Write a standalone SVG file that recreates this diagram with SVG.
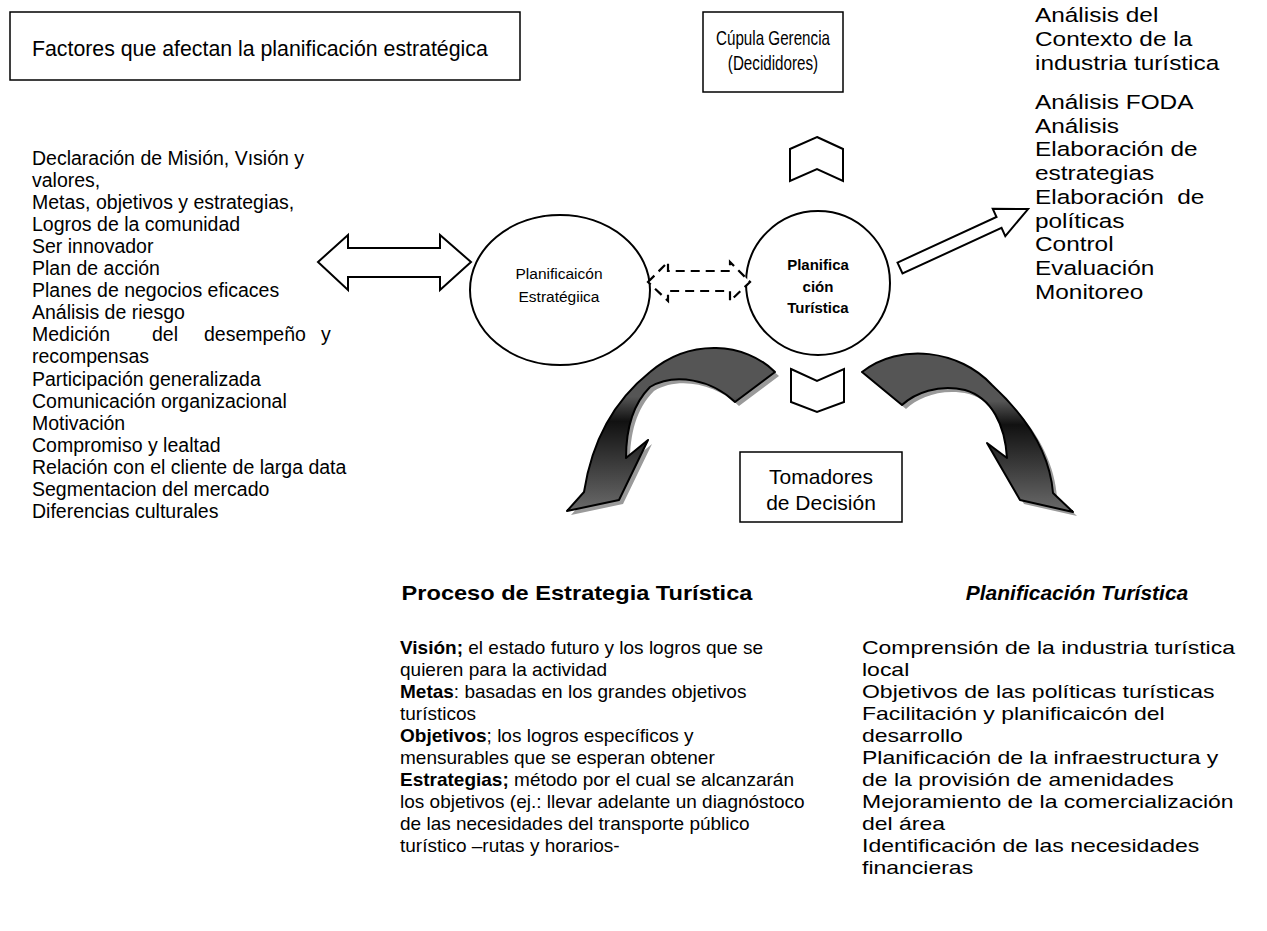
<svg xmlns="http://www.w3.org/2000/svg" width="1267" height="931" viewBox="0 0 1267 931">
<defs>
<linearGradient id="gL" x1="0" y1="0" x2="0" y2="1">
<stop offset="0" stop-color="#555"/><stop offset="0.3" stop-color="#555"/><stop offset="0.45" stop-color="#111"/><stop offset="1" stop-color="#6a6a6a"/>
</linearGradient>
<style>
text{font-family:"Liberation Sans",Arial,sans-serif;fill:#000}
.box{fill:#fff;stroke:#000;stroke-width:1.5}
.sh{fill:#fff;stroke:#000;stroke-width:2}
.t19{font-size:19.5px}
.t20{font-size:20.5px}
.b{font-weight:bold}
.shadow{fill:#9a9a9a}
.curv{fill:url(#gL);stroke:#000;stroke-width:2;stroke-linejoin:round}
</style>
</defs>
<rect width="1267" height="931" fill="#fff"/>

<g id="title">
<rect class="box" x="10" y="12" width="510" height="68"/>
<text x="32" y="56" font-size="21.3px">Factores que afectan la planificación estratégica</text>
</g>

<g id="cupula">
<rect class="box" x="703" y="12" width="140" height="80"/>
<g transform="translate(773,0) scale(0.76,1) translate(-773,0)" font-size="20px">
<text x="773" y="45" text-anchor="middle">Cúpula Gerencia</text>
<text x="773" y="70" text-anchor="middle">(Decididores)</text>
</g>
</g>

<g id="factores" class="t19">
<text x="32" y="165">Declaración de Misión, Vısión y</text>
<text x="32" y="187">valores,</text>
<text x="32" y="209">Metas, objetivos y estrategias,</text>
<text x="32" y="231">Logros de la comunidad</text>
<text x="32" y="253">Ser innovador</text>
<text x="32" y="275">Plan de acción</text>
<text x="32" y="297">Planes de negocios eficaces</text>
<text x="32" y="319">Análisis de riesgo</text>
<text y="341"><tspan x="32">Medición</tspan><tspan x="152">del</tspan><tspan x="204">desempeño</tspan><tspan x="321">y</tspan></text>
<text x="32" y="363">recompensas</text>
<text x="32" y="386">Participación generalizada</text>
<text x="32" y="408">Comunicación organizacional</text>
<text x="32" y="430">Motivación</text>
<text x="32" y="452">Compromiso y lealtad</text>
<text x="32" y="474">Relación con el cliente de larga data</text>
<text x="32" y="496">Segmentacion del mercado</text>
<text x="32" y="518">Diferencias culturales</text>
</g>

<g id="analisis" class="t20" transform="translate(1035,0) scale(1.19,1) translate(-1035,0)">
<text x="1035" y="22">Análisis del</text>
<text x="1035" y="46">Contexto de la</text>
<text x="1035" y="70">industria turística</text>
<text x="1035" y="109">Análisis FODA</text>
<text x="1035" y="133">Análisis</text>
<text x="1035" y="156">Elaboración de</text>
<text x="1035" y="180">estrategias</text>
<text x="1035" y="204" xml:space="preserve">Elaboración  de</text>
<text x="1035" y="228">políticas</text>
<text x="1035" y="251">Control</text>
<text x="1035" y="275">Evaluación</text>
<text x="1035" y="299">Monitoreo</text>
</g>

<g id="planEstrategica">
<ellipse class="sh" cx="560" cy="290" rx="90" ry="75"/>
<text x="559" y="279" font-size="15.5px" text-anchor="middle">Planificaicón</text>
<text x="559" y="302" font-size="15.5px" text-anchor="middle">Estratégiica</text>
</g>

<g id="planTuristica">
<circle class="sh" cx="818" cy="283" r="72"/>
<text x="818" y="270" font-size="15px" class="b" text-anchor="middle">Planifica</text>
<text x="818" y="292" font-size="15px" class="b" text-anchor="middle">ción</text>
<text x="818" y="313" font-size="15px" class="b" text-anchor="middle">Turística</text>
</g>

<g id="tomadores">
<rect class="box" x="740" y="452" width="162" height="70"/>
<g transform="translate(821,0) scale(1.05,1) translate(-821,0)" font-size="20px">
<text x="821" y="484" text-anchor="middle">Tomadores</text>
<text x="821" y="510" text-anchor="middle">de Decisión</text>
</g>
</g>

<g id="proceso">
<text x="577" y="600" font-size="20px" class="b" text-anchor="middle" transform="translate(577,0) scale(1.18,1) translate(-577,0)">Proceso de Estrategia Turística</text>
<g font-size="19px">
<text x="400" y="654"><tspan class="b">Visión;</tspan> el estado futuro y los logros que se</text>
<text x="400" y="676">quieren para la actividad</text>
<text x="400" y="698"><tspan class="b">Metas</tspan>: basadas en los grandes objetivos</text>
<text x="400" y="720">turísticos</text>
<text x="400" y="742"><tspan class="b">Objetivos</tspan>; los logros específicos y</text>
<text x="400" y="764">mensurables que se esperan obtener</text>
<text x="400" y="786"><tspan class="b">Estrategias;</tspan> método por el cual se alcanzarán</text>
<text x="400" y="808">los objetivos (ej.: llevar adelante un diagnóstoco</text>
<text x="400" y="830">de las necesidades del transporte público</text>
<text x="400" y="852">turístico –rutas y horarios-</text>
</g>
</g>

<g id="planTur2">
<text x="1077" y="600" font-size="21px" class="b" font-style="italic" text-anchor="middle">Planificación Turística</text>
<g font-size="19px" transform="translate(862,0) scale(1.21,1) translate(-862,0)">
<text x="862" y="654">Comprensión de la industria turística</text>
<text x="862" y="676">local</text>
<text x="862" y="698">Objetivos de las políticas turísticas</text>
<text x="862" y="720">Facilitación y planificaicón del</text>
<text x="862" y="742">desarrollo</text>
<text x="862" y="764">Planificación de la infraestructura y</text>
<text x="862" y="786">de la provisión de amenidades</text>
<text x="862" y="808">Mejoramiento de la comercialización</text>
<text x="862" y="830">del área</text>
<text x="862" y="852">Identificación de las necesidades</text>
<text x="862" y="874">financieras</text>
</g>
</g>

<g id="connectors">
<polygon class="sh" points="318,262 348,235 348,248 440,248 440,235 471,262 440,290 440,277 348,277 348,290"/>
<polygon fill="#fff" stroke="#000" stroke-width="2.2" stroke-dasharray="9,6" points="648,282 668,262 668,271 730,271 730,262 750,282 730,301 730,291 668,291 668,301"/>
<polygon class="sh" transform="translate(900,268) rotate(-24.7)" points="0,-6 109,-6 109,-15 141,0 109,15 109,6 0,6"/>
<polygon class="sh" points="817,137 843,149 843,181 817,169 790,181 790,149"/>
<polygon class="sh" points="791,369 817,381 844,369 844,402 817,412 791,402"/>
<g transform="translate(4,4)" class="shadow">
<path d="M 775,372 C 745,342 690,338 650,372 C 615,400 592,440 584,492 L 567,511 L 619,500 L 648,440 L 626,458 C 626,430 632,405 650,387 C 675,372 712,380 735,402 Z"/>
<path d="M 862,372 C 900,342 960,350 992,385 C 1030,420 1050,455 1053,493 L 1073,512 L 1020,500 L 987,443 L 1007,458 C 1005,425 992,398 965,390 C 938,384 915,393 902,405 Z"/>
</g>
<path class="curv" d="M 775,372 C 745,342 690,338 650,372 C 615,400 592,440 584,492 L 567,511 L 619,500 L 648,440 L 626,458 C 626,430 632,405 650,387 C 675,372 712,380 735,402 Z"/>
<path class="curv" d="M 862,372 C 900,342 960,350 992,385 C 1030,420 1050,455 1053,493 L 1073,512 L 1020,500 L 987,443 L 1007,458 C 1005,425 992,398 965,390 C 938,384 915,393 902,405 Z"/>
</g>
</svg>
